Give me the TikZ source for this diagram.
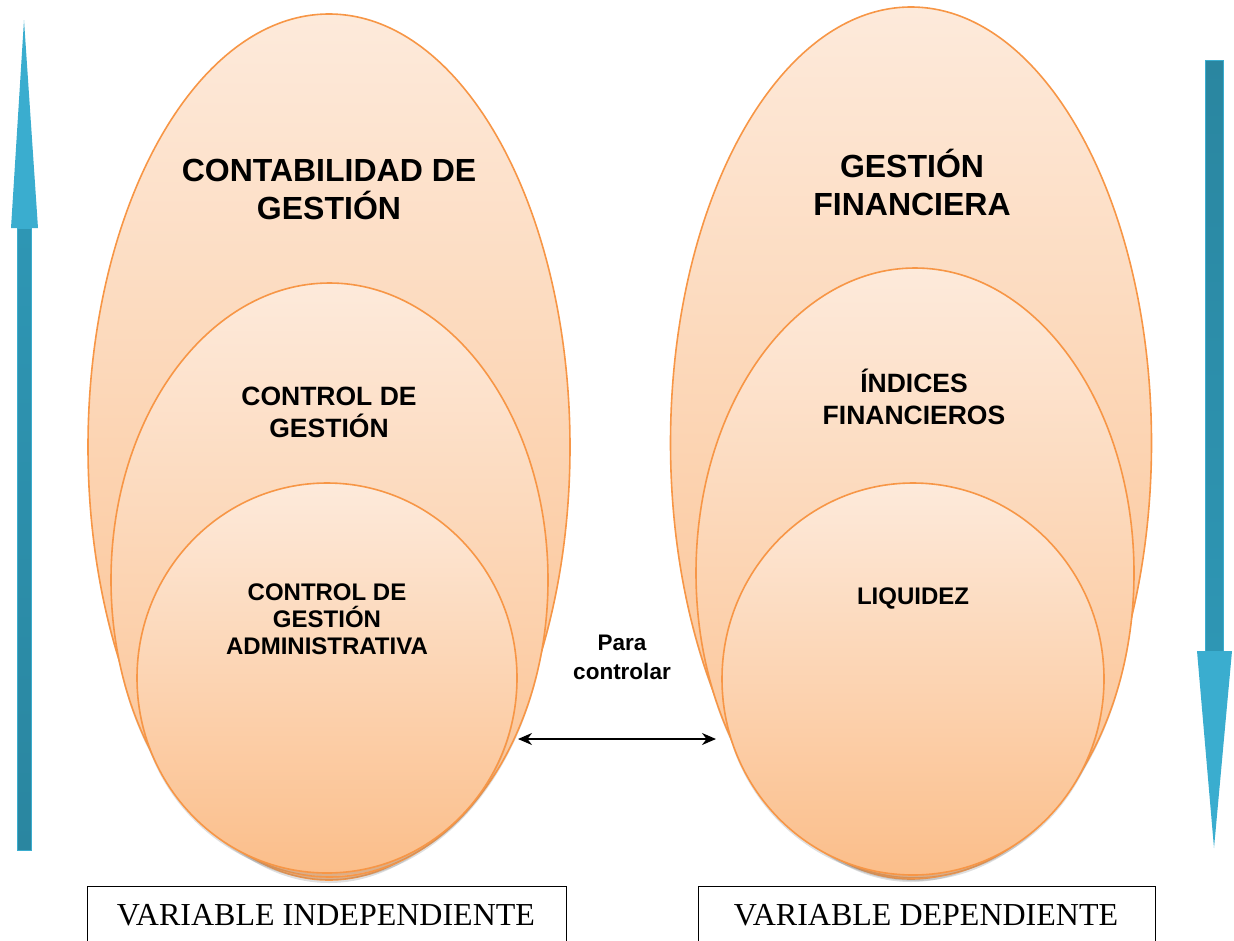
\documentclass[tikz,border=0pt]{standalone}
\usepackage{fontspec}
\setmainfont{Liberation Serif}
\setsansfont{Liberation Sans}
\usetikzlibrary{shapes.geometric,shadows,arrows.meta}
\definecolor{peachT}{RGB}{253,234,219}
\definecolor{peachB}{RGB}{251,190,138}
\definecolor{orline}{RGB}{247,150,70}
\definecolor{arrhead}{RGB}{58,173,207}
\definecolor{shaftdark}{RGB}{42,134,160}
\definecolor{shaftmid}{RGB}{46,150,180}
\tikzset{
  oval/.style={ellipse, draw=orline, line width=1.6pt, top color=peachT, bottom color=peachB, inner sep=0pt,
    drop shadow={opacity=0.25, shadow xshift=0pt, shadow yshift=-3pt}},
  bigtxt/.style={font=\sffamily\bfseries\fontsize{32}{38}\selectfont, align=center},
  midtxt/.style={font=\sffamily\bfseries\fontsize{26.5}{32}\selectfont, align=center},
  smalltxt/.style={font=\sffamily\bfseries\fontsize{24}{27}\selectfont, align=center},
  varbox/.style={draw=black, line width=1.2pt, inner sep=0pt, anchor=north west},
  vartxt/.style={font=\fontsize{32}{36}\selectfont},
  headfill/.style={fill=arrhead, draw=none},
}
\begin{document}
\begin{tikzpicture}[x=1pt,y=-1pt]
\useasboundingbox (0,0) rectangle (1234,940);
% arrows
\shade[top color=shaftmid, bottom color=shaftdark, draw=arrhead, line width=1pt] (17,228) rectangle (31,850);
\fill[headfill] (11,228) -- (24,20) -- (38,228) -- cycle;
\shade[top color=shaftdark, bottom color=shaftmid, draw=arrhead, line width=1pt] (1205,60) rectangle (1223,651);
\fill[headfill] (1197,651) -- (1214,848) -- (1232,651) -- cycle;
% left ellipses
\node[oval, minimum width=482pt, minimum height=866pt] (L1) at (329,447) {};
\node[oval, minimum width=437pt, minimum height=594pt] (L2) at (329.5,580) {};
\node[oval, minimum width=380pt, minimum height=390pt] (L3) at (327,678) {};
% right ellipses
\node[oval, minimum width=481pt, minimum height=872pt] (R1) at (911,443) {};
\node[oval, minimum width=438pt, minimum height=610pt] (R2) at (915,573) {};
\node[oval, minimum width=382pt, minimum height=392pt] (R3) at (913,679) {};
% texts
\node[bigtxt] (t1) at (329,189) {CONTABILIDAD DE\\GESTIÓN};
\node[midtxt] (t2) at (329,412) {CONTROL DE\\GESTIÓN};
\node[smalltxt] (t3) at (327,619) {CONTROL DE\\GESTIÓN\\ADMINISTRATIVA};
\node[bigtxt] (t4) at (912,182) {GESTIÓN\\FINANCIERA};
\node[midtxt] (t5) at (914,397) {ÍNDICES\\FINANCIEROS};
\node[smalltxt] (t6) at (913,598) {LIQUIDEZ};
\node[font=\sffamily\bfseries\fontsize{22.5}{29}\selectfont, align=center] (t7) at (622,657) {Para\\controlar};
% double arrow
\coordinate (aL) at (518,739);
\coordinate (aR) at (716,739);
\draw[line width=1.6pt, {Stealth[length=14pt,width=12pt]}-{Stealth[length=14pt,width=12pt]}] (aL) -- (aR);
% boxes
\node[varbox, minimum width=479pt, minimum height=60pt] (b1) at (87,886) {};
\node[vartxt] (b1t) at (326,915) {VARIABLE INDEPENDIENTE};
\node[varbox, minimum width=457pt, minimum height=60pt] (b2) at (698,886) {};
\node[vartxt] (b2t) at (926,915) {VARIABLE DEPENDIENTE};
\end{tikzpicture}
\end{document}
